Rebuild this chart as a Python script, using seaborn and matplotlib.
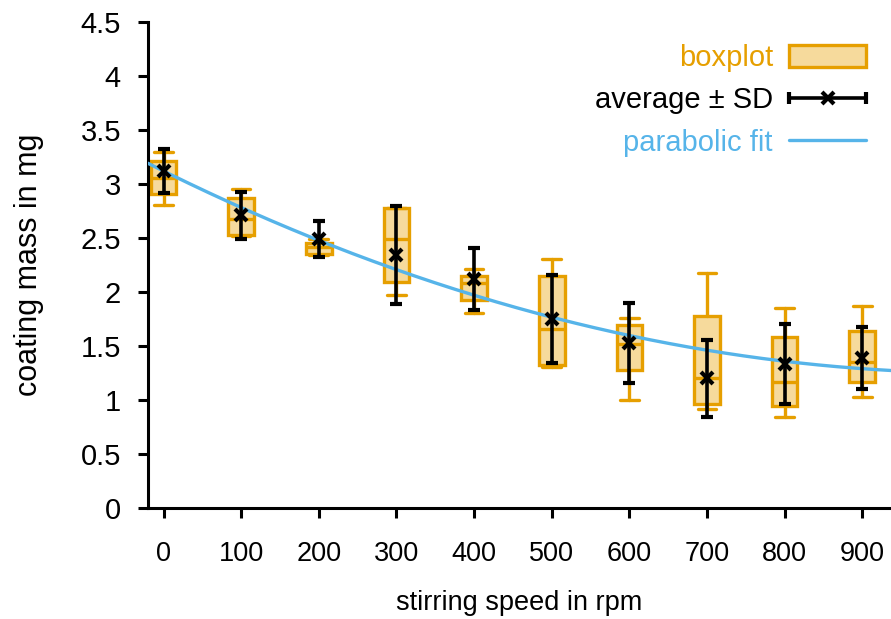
import numpy as np
import matplotlib
matplotlib.use("Agg")
import matplotlib.pyplot as plt
from matplotlib.patches import Patch
from matplotlib.lines import Line2D
from matplotlib.container import ErrorbarContainer
from matplotlib.legend_handler import HandlerErrorbar
import seaborn as sns

# Stirring speeds (rpm) and the coating-mass statistics per speed (mg)
speeds = [0, 100, 200, 300, 400, 500, 600, 700, 800, 900]
whisker_low = [2.81, 2.52, 2.34, 1.97, 1.81, 1.31, 1.00, 0.92, 0.84, 1.03]
quartile_1 = [2.91, 2.53, 2.35, 2.09, 1.93, 1.32, 1.28, 0.96, 0.94, 1.17]
median = [3.06, 2.68, 2.42, 2.49, 2.08, 1.66, 1.52, 1.20, 1.17, 1.35]
quartile_3 = [3.21, 2.87, 2.45, 2.78, 2.15, 2.15, 1.69, 1.78, 1.58, 1.64]
whisker_high = [3.30, 2.95, 2.49, 2.78, 2.21, 2.31, 1.76, 2.18, 1.85, 1.87]
average = [3.12, 2.71, 2.49, 2.34, 2.12, 1.75, 1.53, 1.20, 1.33, 1.39]
std_dev = [0.20, 0.215, 0.17, 0.455, 0.29, 0.41, 0.37, 0.36, 0.37, 0.29]

# Parabolic fit: mass = c0 + c1*speed + c2*speed^2
fit_coeffs = [3.12, -3.548e-3, 1.683e-6]

y_ticks = [0, 0.5, 1, 1.5, 2, 2.5, 3, 3.5, 4, 4.5]
y_tick_labels = ["0", "0.5", "1", "1.5", "2", "2.5", "3", "3.5", "4", "4.5"]
x_ticks = speeds
x_tick_labels = [str(s) for s in speeds]

ORANGE = "#E69F00"
FILL = "#F6DA9C"
BLUE = "#56B4E9"
BLACK = "#000000"

sns.set_theme(style="ticks")
plt.rcParams["font.family"] = ["Liberation Sans", "DejaVu Sans"]
plt.rcParams["axes.linewidth"] = 2.2

fig = plt.figure(figsize=(8.91, 6.19), dpi=100)
ax = fig.add_axes([148 / 891, 111 / 619, 743 / 891, 486 / 619])

# Box plots from the summary statistics
stats = [
    dict(whislo=lo, q1=a, med=m, q3=b, whishi=hi, fliers=[])
    for lo, a, m, b, hi in zip(whisker_low, quartile_1, median, quartile_3, whisker_high)
]
lw = 2.4
ax.bxp(
    stats,
    positions=speeds,
    widths=33,
    capwidths=24,
    patch_artist=True,
    showfliers=False,
    manage_ticks=False,
    boxprops=dict(facecolor=FILL, edgecolor=ORANGE, linewidth=lw),
    whiskerprops=dict(color=ORANGE, linewidth=lw),
    capprops=dict(color=ORANGE, linewidth=lw),
    medianprops=dict(color=ORANGE, linewidth=lw),
)

# Parabolic fit curve across the whole x range
x_lo, x_hi = -20, 937
x_fit = np.linspace(x_lo, x_hi, 400)
y_fit = fit_coeffs[0] + fit_coeffs[1] * x_fit + fit_coeffs[2] * x_fit ** 2
sns.lineplot(x=x_fit, y=y_fit, ax=ax, color=BLUE, linewidth=2.4, zorder=3)

# Mean +/- standard deviation
eb_kw = dict(fmt="x", color=BLACK, markersize=8.5, markeredgewidth=3.0,
             elinewidth=2.6, capsize=4, capthick=2.6)
ax.errorbar(speeds, average, yerr=std_dev, zorder=5, **eb_kw)

# Horizontal error-bar glyph for the legend
eb_legend = ax.errorbar([np.nan], [np.nan], xerr=[1.0], **eb_kw)

ax.set_xlim(x_lo, x_hi)
ax.set_ylim(0, 4.5)
ax.set_xticks(x_ticks)
ax.set_xticklabels(x_tick_labels)
ax.set_yticks(y_ticks)
ax.set_yticklabels(y_tick_labels)
ax.tick_params(axis="both", direction="out", length=7.5, width=2.2,
               colors=BLACK)
ax.tick_params(axis="y", pad=12, labelsize=21)
ax.tick_params(axis="x", pad=16, labelsize=19.5)
# short inward mark closing the top of the y axis
ax.set_yticks([4.5], minor=True)
ax.tick_params(axis="y", which="minor", direction="in", length=7.5,
               width=2.2, colors=BLACK)
sns.despine(ax=ax, top=True, right=True)
ax.spines["left"].set_color(BLACK)
ax.spines["bottom"].set_color(BLACK)

ax.set_xlabel("stirring speed in rpm", fontsize=19.5, color=BLACK, labelpad=17)
ax.set_ylabel("coating mass in mg", fontsize=22, color=BLACK, labelpad=26)

handles = [
    Patch(facecolor=FILL, edgecolor=ORANGE, linewidth=lw),
    eb_legend,
    Line2D([], [], color=BLUE, linewidth=2.4),
]
labels = ["boxplot", "average ± SD", "parabolic fit"]
leg = ax.legend(
    handles, labels,
    loc="upper right",
    bbox_to_anchor=(866 / 891, (619 - 44) / 619),
    bbox_transform=fig.transFigure,
    frameon=False,
    markerfirst=False,
    fontsize=21,
    handlelength=2.64,
    handleheight=0.75,
    handletextpad=0.55,
    labelspacing=0.49,
    borderpad=0,
    borderaxespad=0,
    handler_map={ErrorbarContainer: HandlerErrorbar(xerr_size=1.32, numpoints=1)},
)
for text, col in zip(leg.get_texts(), [ORANGE, BLACK, BLUE]):
    text.set_color(col)

fig.savefig("out.png", dpi=100)
